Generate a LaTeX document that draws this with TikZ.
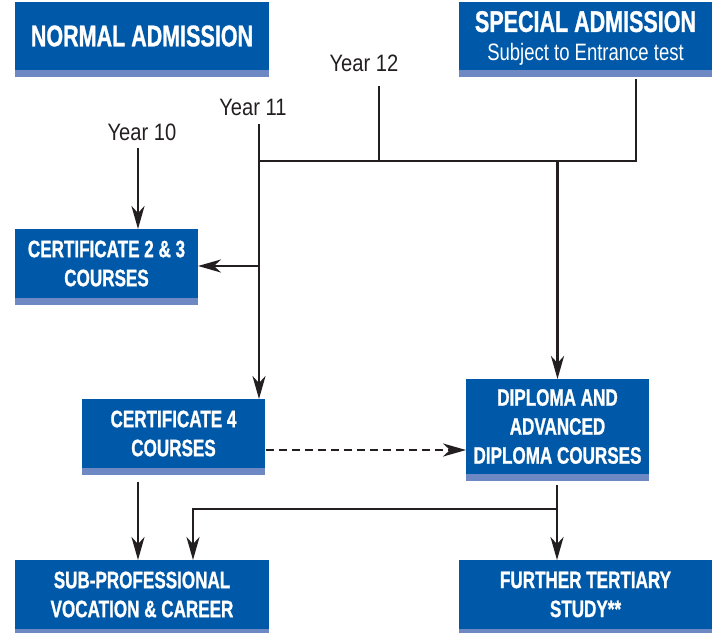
\documentclass[tikz,border=0pt]{standalone}
\usepackage{fontspec}
\setmainfont{Liberation Sans}
\newfontfamily\boxfont[FakeStretch=0.72,FakeBold=1]{Liberation Sans}
\newfontfamily\yearfont[FakeStretch=0.85]{Liberation Sans}
\newfontfamily\subfont[FakeStretch=0.78]{Liberation Sans}
\usetikzlibrary{arrows.meta}
\definecolor{boxblue}{RGB}{0,89,168}
\definecolor{stripblue}{RGB}{110,136,196}
\definecolor{ink}{RGB}{35,31,32}
\tikzset{
  course/.style={fill=boxblue,text=white,align=center,inner sep=0pt,outer sep=0pt,
    minimum height=1.38cm,font=\boxfont\bfseries\fontsize{13.5}{16.5}\selectfont},
  title/.style={course,minimum height=1.36cm,font=\boxfont\bfseries\fontsize{17}{20}\selectfont},
  year/.style={text=ink,font=\yearfont\fontsize{13.5}{16}\selectfont},
  link/.style={draw=ink,line width=1.5pt},
  flow/.style={link,-{Stealth[length=0.46cm,width=0.26cm,inset=0.14cm]}}
}

\begin{document}
\begin{tikzpicture}[x=0.02cm,y=-0.02cm]
  \useasboundingbox (0,0) rectangle (715,632);

  \node[title,minimum width=5.08cm] (normal) at (142,36) {NORMAL ADMISSION};
  \node[title,minimum width=5.06cm] (special) at (585.5,36)
    {\raisebox{-1.4pt}[\height][\depth]{SPECIAL ADMISSION}\\[-3.5pt]%
     \raisebox{-1.4pt}[\height][\depth]{\subfont\mdseries\fontsize{13.5}{16}\selectfont Subject to Entrance test}};
  \node[course,minimum width=3.66cm] (cert23) at (106.5,263.5) {CERTIFICATE 2 \& 3\\COURSES};
  \node[course,minimum width=3.66cm] (cert4) at (173.5,433.5) {CERTIFICATE 4\\COURSES};
  \node[course,minimum width=3.66cm,minimum height=1.9cm] (diploma) at (557.5,426.5)
    {DIPLOMA AND\\ADVANCED\\DIPLOMA COURSES};
  \node[course,minimum width=5.08cm] (subprof) at (142,594.5) {SUB-PROFESSIONAL\\VOCATION \& CAREER};
  \node[course,minimum width=5.06cm] (further) at (585.5,594.5) {FURTHER TERTIARY\\STUDY**};
  \foreach \n in {normal,special,cert23,cert4,diploma,subprof,further}
    \fill[stripblue] (\n.south west) rectangle ([yshift=-0.14cm]\n.south east);

  \node[year] (y10) at (142,132) {Year 10};
  \node[year] (y11) at (253,107) {Year 11};
  \node[year] (y12) at (364,63) {Year 12};

  \coordinate (a10) at (138,148);
  \coordinate (a11) at (259,124);
  \coordinate (a12) at (379,86);
  \coordinate (bus) at (636,161);
  \coordinate (a23) at (259,266);
  \coordinate (dsh) at (266,450);
  \coordinate (b4) at (138,482);
  \coordinate (bd) at (557,485);
  \coordinate (jb) at (557,509);
  \coordinate (kb) at (193,509);

  \draw[flow] (a10) -- (a10 |- cert23.north);
  \draw[flow] (a11) -- (a11 |- cert4.north);
  \draw[link] (a12) -- (a12 |- bus);
  \draw[link] (a11 |- bus) -- (bus) -- ([yshift=-0.18cm]bus |- special.south);
  \draw[flow] (bus -| diploma.north) -- (diploma.north);
  \draw[flow] (a23) -- (a23 -| cert23.east);
  \draw[flow,dash pattern=on 0.16cm off 0.1cm] (dsh) -- (dsh -| diploma.west);
  \draw[flow] (b4) -- (b4 |- subprof.north);
  \draw[flow] (bd) -- (bd |- further.north);
  \draw[flow] (jb) -- (kb) -- (kb |- subprof.north);
\end{tikzpicture}
\end{document}
